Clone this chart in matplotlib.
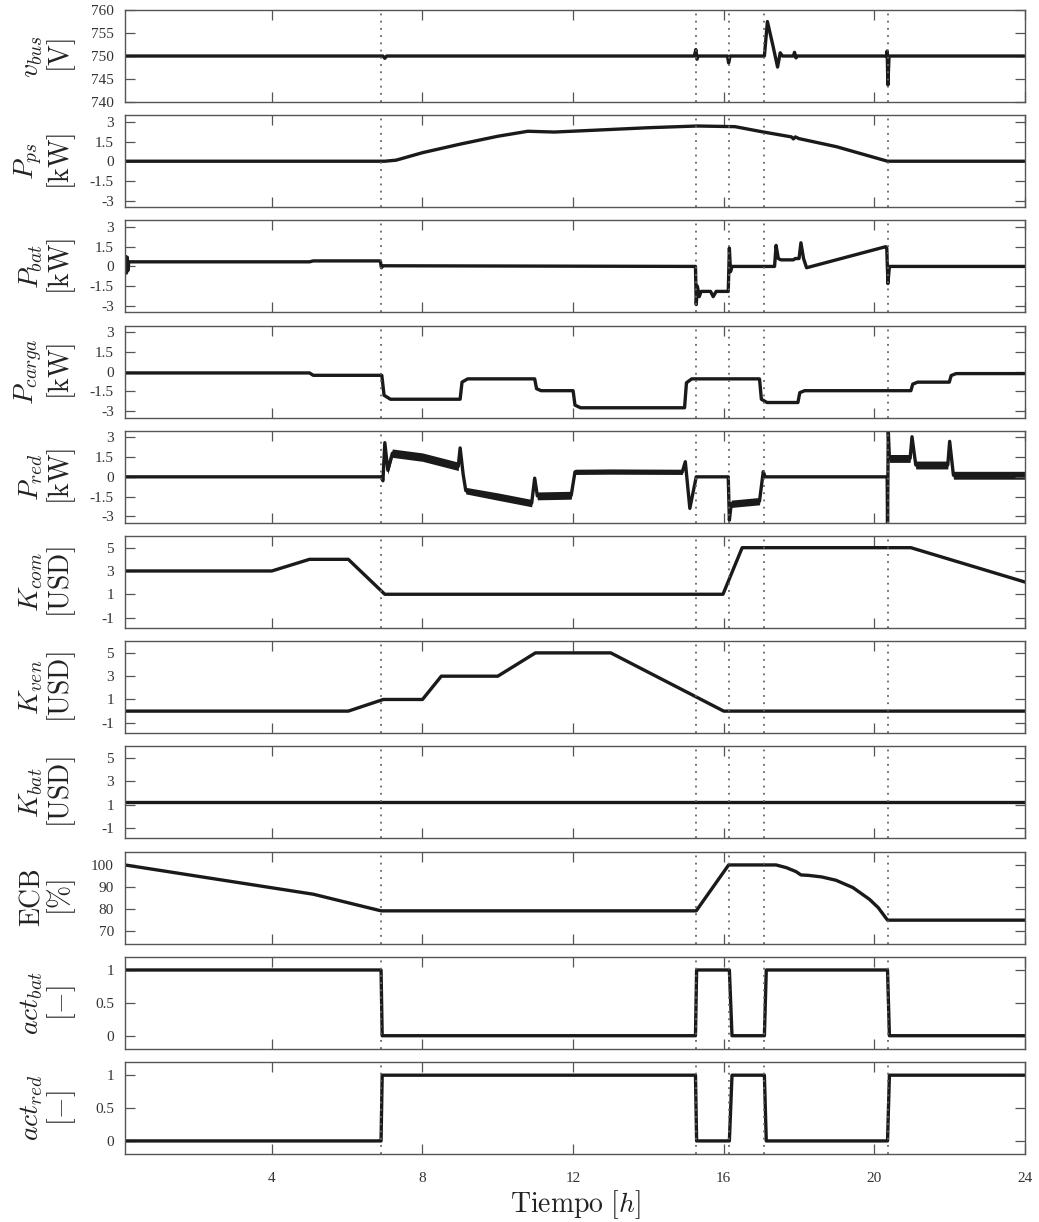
import numpy as np
import matplotlib
matplotlib.use("Agg")
import matplotlib.pyplot as plt

plt.rcParams['font.family'] = 'Liberation Serif'
plt.rcParams['mathtext.fontset'] = 'cm'
plt.rcParams['axes.unicode_minus'] = False

# instantes de conmutacion [h]
t_sw = [6.9, 15.27, 16.15, 17.08, 20.35]

# tension del bus [V]
t_vbus = [0.1, 6.95, 7.0, 7.05, 15.22, 15.26, 15.29, 15.32, 16.1, 16.13, 16.17,
          17.08, 17.16, 17.3, 17.43, 17.5, 17.56, 17.85, 17.88, 17.92, 17.95,
          20.32, 20.34, 20.36, 20.39, 24]
v_bus = [750, 750, 749.5, 750, 750, 751.4, 749.3, 750, 750, 748.5, 750,
         750, 757.5, 752.5, 747.6, 750.7, 750, 750, 750.8, 749.6, 750,
         750, 751.1, 743.7, 750, 750]

# potencia paneles [kW]
t_ps = [0.1, 7.0, 7.3, 8.0, 9.0, 10.0, 10.8, 11.5, 12.5, 14.0, 15.3, 16.3, 17.0,
        17.8, 17.85, 17.9, 18.0, 19.0, 20.35, 24]
p_ps = [0, 0, 0.08, 0.65, 1.3, 1.9, 2.28, 2.22, 2.35, 2.55, 2.68, 2.63, 2.25,
        1.85, 1.7, 1.85, 1.72, 1.1, 0.0, 0.0]

# potencia bateria [kW]
t_bat = [0.1, 0.12, 0.14, 0.16, 0.18, 0.2, 5.0, 5.1, 6.88, 6.91, 6.95, 15.25, 15.27, 15.3,
         15.35, 15.4, 15.65, 15.72, 15.8, 16.12, 16.15, 16.18, 16.22, 17.35, 17.39,
         17.45, 17.52, 17.85, 17.9, 18.0, 18.05, 18.12, 18.2, 20.3, 20.33, 20.36, 20.4, 24]
p_bat = [0.35, 0.75, -0.5, 0.7, -0.3, 0.35, 0.35, 0.42, 0.42, -0.1, 0.05, 0.0, -2.9, -1.5,
         -2.3, -1.9, -1.9, -2.3, -1.9, -1.9, 1.4, -0.4, 0.0, 0.0, 1.6,
         0.6, 0.5, 0.5, 0.6, 0.6, 1.8, 0.6, -0.1, 1.5, 1.4, -1.3, 0.0, 0.0]

# potencia carga [kW]
t_carga = [0.1, 5.0, 5.1, 6.92, 6.98, 7.15, 9.0, 9.05, 9.2, 10.98, 11.03, 11.15,
           12.0, 12.05, 12.2, 14.96, 15.01, 15.15, 16.95, 17.0, 17.15, 17.97, 18.02, 18.15,
           20.97, 21.02, 21.15, 21.99, 22.04, 22.17, 24]
p_carga = [-0.1, -0.1, -0.28, -0.28, -1.8, -2.1, -2.1, -0.8, -0.55, -0.55, -1.3, -1.45,
           -1.45, -2.55, -2.75, -2.75, -0.85, -0.55, -0.55, -2.1, -2.35, -2.35, -1.6, -1.45,
           -1.45, -0.95, -0.8, -0.8, -0.3, -0.15, -0.15]

# potencia red [kW]: centro y semiancho de la banda de rizado
t_red = [0.1, 6.9, 6.95, 7.0, 7.08, 7.2, 8.0, 8.95, 9.0, 9.08, 9.15, 10.0, 10.9, 10.98,
         11.05, 11.95, 12.05, 13.0, 14.9, 14.98, 15.1, 15.27, 16.12, 16.15, 16.2, 16.95,
         17.05, 17.1, 20.34, 20.35, 20.37, 20.4, 20.95, 21.0, 21.1, 21.95, 22.0, 22.1, 24]
p_red = [0, 0, -0.3, 2.6, 0.5, 1.8, 1.5, 0.8, 2.2, 0.2, -1.05, -1.5, -2.0, -0.1,
         -1.45, -1.4, 0.38, 0.4, 0.38, 1.15, -2.4, 0, 0, -3.3, -2.05, -1.85,
         0.4, 0, 0, -3.5, 3.5, 1.4, 1.4, 3.05, 0.9, 0.9, 2.7, 0.12, 0.12]
hw_red = [0, 0, 0.1, 0.05, 0.3, 0.32, 0.32, 0.32, 0.05, 0.15, 0.25, 0.28, 0.28, 0.05,
          0.3, 0.3, 0.2, 0.2, 0.2, 0.05, 0.1, 0, 0, 0, 0.28, 0.28,
          0.05, 0, 0, 0, 0, 0.3, 0.3, 0.05, 0.3, 0.3, 0.05, 0.3, 0.3]

# costos [USD]
t_com = [0.1, 4.0, 5.0, 6.03, 7.0, 15.98, 16.49, 20.97, 24]
k_com = [3, 3, 4, 4, 1, 1, 5, 5, 2.05]
t_ven = [0.1, 6.03, 6.96, 8.0, 8.5, 10.0, 11.0, 13.0, 16.0, 24]
k_ven = [0, 0, 1, 1, 3, 3, 5, 5, 0, 0]
t_kbat = [0.1, 24]
k_bat = [1.2, 1.2]

# estado de carga [%]
t_ecb = [0.1, 5.1, 6.9, 15.27, 16.13, 17.39, 17.66, 17.92, 18.05, 18.25, 18.6, 18.98,
         19.43, 19.87, 20.1, 20.35, 24]
ecb = [100, 86.8, 79.3, 79.3, 100, 100, 98.8, 97, 95.5, 95.3, 94.6, 93.1,
       89.8, 84.5, 80.8, 75.1, 75.1]

# activaciones [-]
t_act = [0.1, 6.9, 6.93, 15.25, 15.28, 16.15, 16.22, 17.08, 17.13, 20.35, 20.4, 24]
act_bat = [1, 1, 0, 0, 1, 1, 0, 0, 1, 1, 0, 0]
act_red = [0, 0, 1, 1, 0, 0, 1, 1, 0, 0, 1, 1]

labels = [r'$v_{bus}$' + '\n' + r'$[\mathrm{V}]$',
          r'$P_{ps}$' + '\n' + r'$[\mathrm{kW}]$',
          r'$P_{bat}$' + '\n' + r'$[\mathrm{kW}]$',
          r'$P_{carga}$' + '\n' + r'$[\mathrm{kW}]$',
          r'$P_{red}$' + '\n' + r'$[\mathrm{kW}]$',
          r'$K_{com}$' + '\n' + r'$[\mathrm{USD}]$',
          r'$K_{ven}$' + '\n' + r'$[\mathrm{USD}]$',
          r'$K_{bat}$' + '\n' + r'$[\mathrm{USD}]$',
          r'$\mathrm{ECB}$' + '\n' + r'$[\%]$',
          r'$act_{bat}$' + '\n' + r'$[-]$',
          r'$act_{red}$' + '\n' + r'$[-]$']

kw_ticks = [-3, -1.5, 0, 1.5, 3]
kw_lbls = ['-3', '-1.5', '0', '1.5', '3']
usd_ticks = [-1, 1, 3, 5]
usd_lbls = ['-1', '1', '3', '5']
act_ticks = [0, 0.5, 1]
act_lbls = ['0', '0.5', '1']

series = [(t_vbus, v_bus), (t_ps, p_ps), (t_bat, p_bat), (t_carga, p_carga),
          (t_red, p_red), (t_com, k_com), (t_ven, k_ven), (t_kbat, k_bat),
          (t_ecb, ecb), (t_act, act_bat), (t_act, act_red)]
ylims = [(740, 760), (-3.5, 3.5), (-3.5, 3.5), (-3.5, 3.5), (-3.5, 3.5),
         (-1.9, 6), (-1.9, 6), (-1.9, 6), (64.5, 106), (-0.2, 1.2), (-0.2, 1.2)]
yticks = [([740, 745, 750, 755, 760], ['740', '745', '750', '755', '760']),
          (kw_ticks, kw_lbls), (kw_ticks, kw_lbls), (kw_ticks, kw_lbls), (kw_ticks, kw_lbls),
          (usd_ticks, usd_lbls), (usd_ticks, usd_lbls), (usd_ticks, usd_lbls),
          ([70, 80, 90, 100], ['70', '80', '90', '100']),
          (act_ticks, act_lbls), (act_ticks, act_lbls)]

lc = '#1a1a1a'
gc = '#555555'

fig, axs = plt.subplots(11, 1, figsize=(10.39, 12.22), dpi=100, sharex=True)
fig.subplots_adjust(left=0.1203, right=0.9865, top=0.9918, bottom=0.0556, hspace=0.1435)

for i, ax in enumerate(axs):
    t, y = series[i]
    if i == 4:
        lo = np.array(p_red) - np.array(hw_red)
        hi = np.array(p_red) + np.array(hw_red)
        ax.fill_between(t_red, lo, hi, color=lc, lw=0)
    ax.plot(t, y, color=lc, lw=2.4, solid_joinstyle='round')
    for ts in t_sw:
        ax.axvline(ts, color='#666666', ls=(0, (1, 3)), lw=1.3, zorder=5)
    ax.set_xlim(0.1, 24)
    ax.set_ylim(*ylims[i])
    ax.set_yticks(yticks[i][0])
    ax.set_yticklabels(yticks[i][1])
    ax.set_xticks([4, 8, 12, 16, 20, 24])
    ax.tick_params(direction='in', length=7, width=0.9, color=gc, top=True, right=True,
                   labelsize=11, labelcolor='#333333')
    ax.tick_params(axis='y', pad=8)
    ax.tick_params(axis='x', pad=13)
    for s in ax.spines.values():
        s.set_color(gc)
        s.set_linewidth(1.0)
    ax.set_ylabel(labels[i], fontsize=20, color='#222222', linespacing=1.0)
    ax.yaxis.set_label_coords(-0.052, 0.5)

axs[-1].set_xticklabels(['4', '8', '12', '16', '20', '24'])
axs[-1].set_xlabel(r'$\mathrm{Tiempo}\ [h]$', fontsize=20, color='#222222', labelpad=2)

plt.savefig('out.png', dpi=100)
